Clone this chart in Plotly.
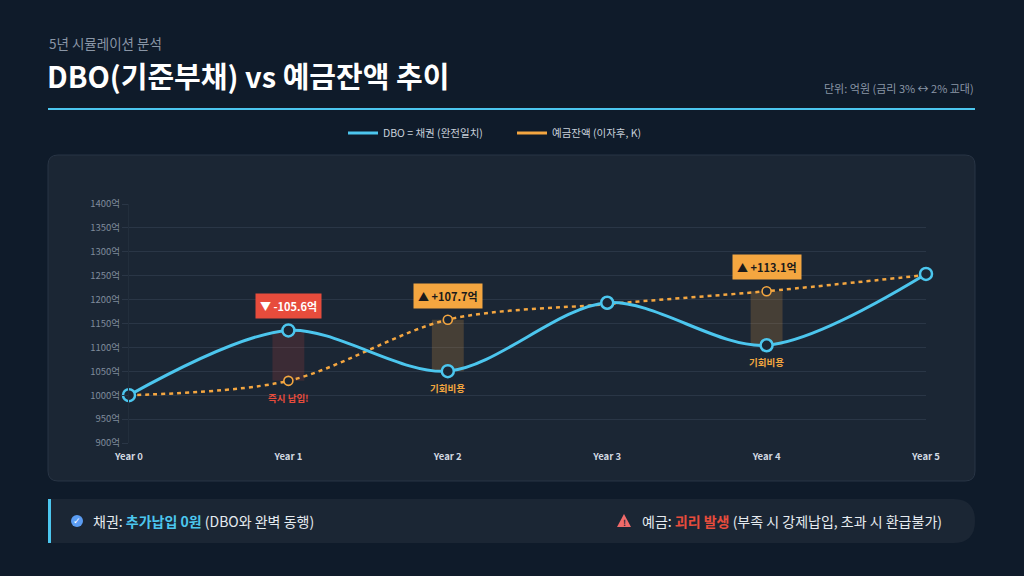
import plotly.graph_objects as go

# data (억원)
years = ["Year 0", "Year 1", "Year 2", "Year 3", "Year 4", "Year 5"]
dbo = [1000.0, 1135.6, 1050.3, 1193.4, 1104.5, 1253.6]
deposit = [1000.0, 1030.0, 1158.0, 1190.5, 1217.6, 1251.5]
gap_years = [1, 2, 4]
gap_notes = ["즉시 납입!", "기회비용", "기회비용"]
y_ticks = [900, 950, 1000, 1050, 1100, 1150, 1200, 1250, 1300, 1350, 1400]

FONT = "Noto Sans CJK KR"
BG = "#0F1B2A"
PANEL = "#1B2634"
CYAN = "#4CC6EE"
ORANGE = "#F4A640"
RED = "#E74C3C"
GRID = "#2A3646"

# plot area in pixels
L, R, T, B = 129, 926, 204, 443
W, H = 1024, 576


def px(x):
    return (x - L) / (R - L)


def py(y):
    return (B - y) / (B - T)


def rounded(x0, y0, x1, y1, rl, rr):
    # rounded rect path in paper coords from pixel corners
    p = [
        f"M {px(x0 + rl)},{py(y0)}",
        f"L {px(x1 - rr)},{py(y0)}",
        f"Q {px(x1)},{py(y0)} {px(x1)},{py(y0 + rr)}",
        f"L {px(x1)},{py(y1 - rr)}",
        f"Q {px(x1)},{py(y1)} {px(x1 - rr)},{py(y1)}",
        f"L {px(x0 + rl)},{py(y1)}",
        f"Q {px(x0)},{py(y1)} {px(x0)},{py(y1 - rl)}",
        f"L {px(x0)},{py(y0 + rl)}",
        f"Q {px(x0)},{py(y0)} {px(x0 + rl)},{py(y0)}",
        "Z",
    ]
    return " ".join(p)


fig = go.Figure()

# shaded gaps between the two series
for i in gap_years:
    diff = deposit[i] - dbo[i]
    col = "rgba(231,76,60,0.16)" if diff < 0 else "rgba(244,166,64,0.2)"
    fig.add_trace(go.Bar(
        x=[years[i]], y=[abs(diff)], base=[min(dbo[i], deposit[i])],
        width=0.2, marker=dict(color=col, line=dict(width=0)),
        showlegend=False, hoverinfo="skip",
    ))

fig.add_trace(go.Scatter(
    x=years, y=deposit, mode="lines+markers", showlegend=False,
    line=dict(color=ORANGE, width=2.5, dash="4px,4px", shape="spline", smoothing=0.9),
    marker=dict(size=9, color=PANEL, line=dict(color=ORANGE, width=1.6)),
    cliponaxis=False,
))
fig.add_trace(go.Scatter(
    x=years, y=dbo, mode="lines+markers", showlegend=False,
    line=dict(color=CYAN, width=3, shape="spline", smoothing=0.9),
    marker=dict(size=12, color=PANEL, line=dict(color=CYAN, width=2.5)),
    cliponaxis=False,
))
# legend entries
fig.add_trace(go.Scatter(x=[None], y=[None], mode="lines", name="DBO = 채권 (완전일치)",
                         line=dict(color=CYAN, width=3)))
fig.add_trace(go.Scatter(x=[None], y=[None], mode="lines", name="예금잔액 (이자후, K)",
                         line=dict(color=ORANGE, width=3)))

annotations = []
for i, note in zip(gap_years, gap_notes):
    diff = deposit[i] - dbo[i]
    up = diff > 0
    label = f"{'▲' if up else '▼'} {diff:+.1f}억"
    annotations.append(dict(
        x=years[i], y=max(dbo[i], deposit[i]), yshift=24, showarrow=False,
        text=f"<b>{label}</b>", bgcolor=ORANGE if up else RED, borderpad=4,
        font=dict(family=FONT, size=11, color="#1B1B1B" if up else "#FFFFFF"),
    ))
    annotations.append(dict(
        x=years[i], y=min(dbo[i], deposit[i]), yshift=-17, showarrow=False,
        text=f"<b>{note}</b>",
        font=dict(family=FONT, size=9.5, color=ORANGE if up else RED),
    ))

# header
annotations += [
    dict(xref="paper", yref="paper", x=px(47), y=py(43), xanchor="left", yanchor="middle",
         showarrow=False, text="5년 시뮬레이션 분석",
         font=dict(family=FONT, size=13.5, color="#8A96A6")),
    dict(xref="paper", yref="paper", x=px(45), y=py(75), xanchor="left", yanchor="middle",
         showarrow=False, text="<b>DBO(기준부채) vs 예금잔액 추이</b>",
         font=dict(family=FONT, size=29, color="#FFFFFF")),
    dict(xref="paper", yref="paper", x=px(976), y=py(88), xanchor="right", yanchor="middle",
         showarrow=False, text="단위: 억원 (금리 3% ↔ 2% 교대)",
         font=dict(family=FONT, size=11, color="#8A96A6")),
    # footer
    dict(xref="paper", yref="paper", x=px(77), y=py(521), xanchor="center", yanchor="middle",
         showarrow=False, text="<b>✓</b>", font=dict(family="DejaVu Sans", size=9, color="#FFFFFF")),
    dict(xref="paper", yref="paper", x=px(91), y=py(521), xanchor="left", yanchor="middle",
         showarrow=False,
         text=f"채권: <b><span style='color:{CYAN}'>추가납입 0원</span></b> (DBO와 완벽 동행)",
         font=dict(family=FONT, size=14, color="#E6EBF0")),
    dict(xref="paper", yref="paper", x=px(624), y=py(522), xanchor="center", yanchor="middle",
         showarrow=False, text="<b>!</b>", font=dict(family=FONT, size=8, color="#1B2634")),
    dict(xref="paper", yref="paper", x=px(944), y=py(521), xanchor="right", yanchor="middle",
         showarrow=False,
         text=f"예금: <b><span style='color:{RED}'>괴리 발생</span></b> (부족 시 강제납입, 초과 시 환급불가)",
         font=dict(family=FONT, size=14, color="#E6EBF0")),
]

shapes = [
    dict(type="path", xref="paper", yref="paper", path=rounded(48, 155, 975, 481, 10, 10),
         fillcolor=PANEL, line=dict(color="#283444", width=1), layer="below"),
    dict(type="line", xref="paper", yref="paper", x0=px(48), x1=px(975), y0=py(109), y1=py(109),
         line=dict(color=CYAN, width=2)),
    dict(type="path", xref="paper", yref="paper", path=rounded(50, 499, 975, 543, 2, 22),
         fillcolor=PANEL, line=dict(width=0), layer="below"),
    dict(type="rect", xref="paper", yref="paper", x0=px(48), x1=px(51), y0=py(499), y1=py(543),
         fillcolor=CYAN, line=dict(width=0)),
    dict(type="circle", xref="paper", yref="paper", x0=px(71), x1=px(83), y0=py(515), y1=py(527),
         fillcolor="#5B9CF2", line=dict(width=0)),
    dict(type="path", xref="paper", yref="paper",
         path=f"M {px(624)},{py(514)} L {px(631)},{py(527)} L {px(617)},{py(527)} Z",
         fillcolor="#F06A6A", line=dict(width=0)),
]

fig.update_layout(
    width=W, height=H,
    margin=dict(l=L, r=W - R, t=T, b=H - B),
    paper_bgcolor=BG, plot_bgcolor=PANEL,
    barmode="overlay",
    font=dict(family=FONT, color="#C8D0DA"),
    showlegend=True,
    legend=dict(orientation="h", xref="container", yref="container", x=0.5, y=1 - 133 / H,
                xanchor="center", yanchor="middle", font=dict(size=10.5, color="#C8D0DA"),
                bgcolor="rgba(0,0,0,0)", entrywidthmode="pixels", entrywidth=124),
    annotations=annotations,
    shapes=shapes,
)
fig.update_xaxes(
    type="category", categoryorder="array", categoryarray=years, range=[0, 5],
    showgrid=False, zeroline=False, showline=False, ticks="",
    tickfont=dict(size=9.5, color="#D3D9E1", family=FONT),
    tickprefix="<b>", ticksuffix="</b>", ticklabelstandoff=6,
)
fig.update_yaxes(
    range=[900, 1400], tickvals=y_ticks, ticktext=[f"{v}억" for v in y_ticks],
    showgrid=True, gridcolor=GRID,
    gridwidth=1, zeroline=False, showline=True, linecolor="#222E3C", ticks="outside",
    ticklen=6, tickcolor=GRID, tickfont=dict(size=9.5, color="#7F8B9B", family=FONT),
)

fig.write_html("out.html", config={"displayModeBar": False},
               post_script="document.body.style.margin='0';")
